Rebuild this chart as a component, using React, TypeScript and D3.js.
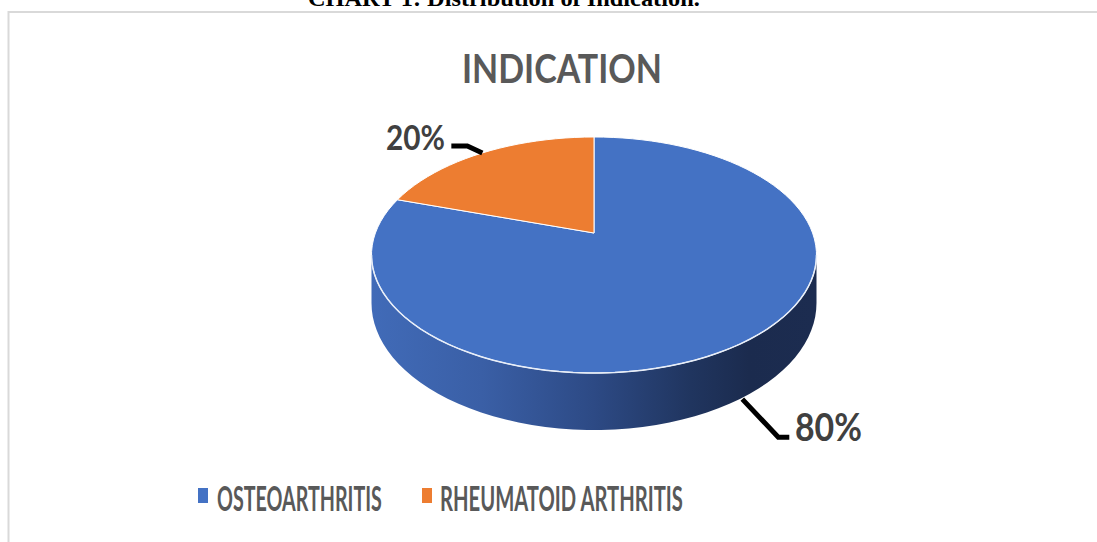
import React, { useLayoutEffect, useRef, useState } from "react";
import * as d3 from "d3";

const categories = ["OSTEOARTHRITIS", "RHEUMATOID ARTHRITIS"];
const values = [80, 20];
const labels = ["80%", "20%"];
const colors = ["#4472c4", "#ed7d31"];
const chartTitle = "INDICATION";
const pageCaption = "CHART 1: Distribution of Indication.";

// perspective geometry of the 3D pie
const X0 = 594, Y0 = 233; // projected centre of the top face
const A = 218.6, B = 113.9, K = 0.1864, D = 46.4;

function proj(theta: number, bottom = false): [number, number] {
  const u = Math.sin(theta), v = Math.cos(theta);
  const w = 1 + K * v;
  return [X0 + (A * u) / w, Y0 - (B * v) / w + (bottom ? D / w : 0)];
}

function arcPts(a0: number, a1: number, bottom = false, n = 120): [number, number][] {
  const pts: [number, number][] = [];
  const steps = Math.max(2, Math.ceil((Math.abs(a1 - a0) / (2 * Math.PI)) * n));
  for (let i = 0; i <= steps; i++) pts.push(proj(a0 + ((a1 - a0) * i) / steps, bottom));
  return pts;
}

type FitProps = {
  x: number; // left edge
  y: number; // baseline
  width: number;
  text: string;
  fontSize: number;
  fill: string;
  family: string;
};

function FitText({ x, y, width, text, fontSize, fill, family }: FitProps) {
  const ref = useRef<SVGTextElement>(null);
  const [s, setS] = useState(1);
  useLayoutEffect(() => {
    if (ref.current) {
      const len = ref.current.getComputedTextLength();
      if (len > 0) setS(width / len);
    }
  }, [text, width, fontSize, family]);
  return (
    <text
      ref={ref}
      transform={`translate(${x},${y}) scale(${s},1)`}
      x={0}
      y={0}
      fontFamily={family}
      fontWeight="bold"
      fontSize={fontSize}
      fill={fill}
    >
      {text}
    </text>
  );
}

export default function App() {
  const pie = d3.pie<number>().sort(null).startAngle(0).endAngle(2 * Math.PI);
  const arcs = pie(values);
  const line = d3.line();

  const frontA = Math.acos(-K);
  const frontB = 2 * Math.PI - frontA;

  const topPaths = arcs.map((a) => {
    const pts = [[X0, Y0] as [number, number], ...arcPts(a.startAngle, a.endAngle)];
    return line(pts) + "Z";
  });

  const sidePaths = arcs
    .map((a, i) => {
      const s = Math.max(a.startAngle, frontA);
      const e = Math.min(a.endAngle, frontB);
      if (e <= s) return null;
      const pts = [...arcPts(s, e), ...arcPts(e, s, true)];
      return { i, d: line(pts) + "Z" };
    })
    .filter(Boolean) as { i: number; d: string }[];

  const rimPath = line(arcPts(frontA, frontB)) || "";

  // leader lines
  const mid0 = (arcs[0].startAngle + arcs[0].endAngle) / 2;
  const mid1 = (arcs[1].startAngle + arcs[1].endAngle) / 2;
  const p0 = proj(mid0, true);
  const p1 = proj(mid1, false);
  const leader0: [number, number][] = [
    [p0[0] - 3, p0[1] + 3],
    [p0[0] + 33, p0[1] + 41],
    [p0[0] + 44, p0[1] + 41],
  ];
  const leader1: [number, number][] = [
    [p1[0], p1[1]],
    [p1[0] - 15, p1[1] - 7],
    [p1[0] - 31, p1[1] - 7],
  ];

  const font = "Lato, 'Open Sans', sans-serif";
  const serif = "'Liberation Serif', 'Times New Roman', serif";

  return (
    <div style={{ position: "absolute", left: 0, top: 0 }}>
      <svg width={1097} height={542} style={{ display: "block" }}>
        <defs>
          <linearGradient id="sideGrad" x1={370} x2={816} y1={0} y2={0} gradientUnits="userSpaceOnUse">
            <stop offset="0%" stopColor="#416bb8" />
            <stop offset="25%" stopColor="#3a5fa6" />
            <stop offset="50%" stopColor="#2d4a85" />
            <stop offset="72%" stopColor="#20355f" />
            <stop offset="85%" stopColor="#1b2b4e" />
            <stop offset="100%" stopColor="#1c2c50" />
          </linearGradient>
        </defs>
        <rect x={0} y={0} width={1097} height={542} fill="#ffffff" />
        <FitText x={308} y={6} width={392} text={pageCaption} fontSize={24} fill="#000" family={serif} />
        <rect x={8.5} y={12} width={1200} height={600} fill="none" stroke="#d9d9d9" strokeWidth={2} />

        <FitText x={462} y={83} width={200} text={chartTitle} fontSize={40} fill="#595959" family={font} />

        {sidePaths.map((s) => (
          <path key={"side" + s.i} d={s.d} fill={s.i === 0 ? "url(#sideGrad)" : "#ae5a22"} />
        ))}
        {topPaths.map((d, i) => (
          <path key={"top" + i} d={d} fill={colors[i]} stroke="#ffffff" strokeWidth={1} strokeLinejoin="round" />
        ))}
        <path d={rimPath} fill="none" stroke="#e8eef8" strokeWidth={1.5} />

        <polyline points={leader0.map((p) => p.join(",")).join(" ")} fill="none" stroke="#000" strokeWidth={5} />
        <polyline points={leader1.map((p) => p.join(",")).join(" ")} fill="none" stroke="#000" strokeWidth={5} />

        <FitText x={795} y={441} width={67} text={labels[0]} fontSize={38} fill="#404040" family={font} />
        <FitText x={386} y={150} width={59} text={labels[1]} fontSize={35} fill="#404040" family={font} />

        {/* legend */}
        <rect x={198} y={488} width={10} height={15} fill={colors[0]} />
        <FitText x={217} y={511} width={165} text={categories[0]} fontSize={34} fill="#595959" family={font} />
        <rect x={422} y={488} width={10} height={15} fill={colors[1]} />
        <FitText x={440} y={511} width={243} text={categories[1]} fontSize={34} fill="#595959" family={font} />
      </svg>
    </div>
  );
}
